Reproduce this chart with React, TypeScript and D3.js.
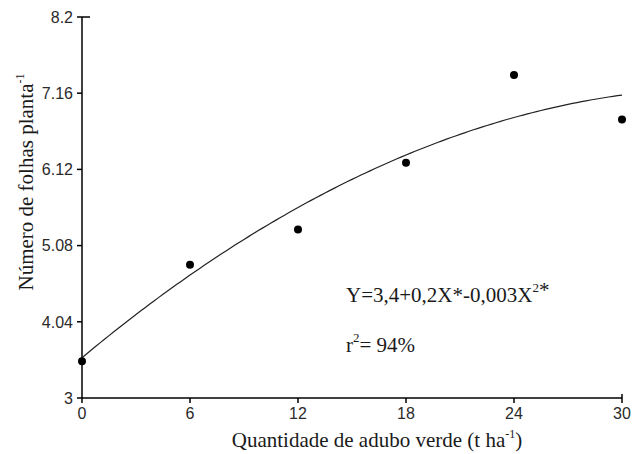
import React from "react";
import * as d3 from "d3";

const xValues = [0, 6, 12, 18, 24, 30];
const yValues = [3.5, 4.82, 5.3, 6.21, 7.41, 6.8];
const xTicks = [0, 6, 12, 18, 24, 30];
const yTicks = [3, 4.04, 5.08, 6.12, 7.16, 8.2];
// fitted regression curve coefficients (as drawn)
const fitA = 3.55;
const fitB = 0.205;
const fitC = -0.00285;
const fitSamples = d3.range(0, 30.0001, 0.25);

const W = 633;
const H = 454;

export default function App() {
  const x = d3.scaleLinear().domain([0, 30]).range([82, 622]);
  const y = d3.scaleLinear().domain([3, 8.2]).range([398, 17]);
  const curve = d3
    .line<number>()
    .x((d) => x(d))
    .y((d) => y(fitA + fitB * d + fitC * d * d));

  const tickFont = "'Liberation Sans', Arial, sans-serif";
  const serif = "'Liberation Serif', 'Times New Roman', serif";

  return (
    <svg
      width={W}
      height={H}
      style={{ position: "absolute", left: 0, top: 0, background: "#fff" }}
    >
      <rect width={W} height={H} fill="#fff" />
      {/* axes */}
      <line x1={x(0)} x2={x(0)} y1={y(8.2)} y2={y(3)} stroke="#000" strokeWidth={1.5} />
      <line x1={x(0)} x2={x(30)} y1={y(3)} y2={y(3)} stroke="#000" strokeWidth={1.5} />
      {yTicks.map((t, i) => (
        <g key={"y" + i}>
          <line
            x1={x(0) - 5}
            x2={i === yTicks.length - 1 ? x(0) + 8 : x(0)}
            y1={y(t)}
            y2={y(t)}
            stroke="#000"
            strokeWidth={1.5}
          />
          <text
            x={x(0) - 9}
            y={y(t)}
            dy="0.36em"
            textAnchor="end"
            fontFamily={tickFont}
            fontSize={16}
            fill="#2a2a2a"
          >
            {String(t)}
          </text>
        </g>
      ))}
      {xTicks.map((t, i) => (
        <g key={"x" + i}>
          <line
            x1={x(t)}
            x2={x(t)}
            y1={i === xTicks.length - 1 ? y(3) - 4 : y(3)}
            y2={y(3) + 5}
            stroke="#000"
            strokeWidth={1.5}
          />
          <text
            x={x(t)}
            y={y(3) + 21}
            textAnchor="middle"
            fontFamily={tickFont}
            fontSize={16}
            fill="#2a2a2a"
          >
            {String(t)}
          </text>
        </g>
      ))}
      {/* fitted curve */}
      <path d={curve(fitSamples) || ""} fill="none" stroke="#222" strokeWidth={1.2} />
      {/* points */}
      {xValues.map((v, i) => (
        <circle key={"p" + i} cx={x(v)} cy={y(yValues[i])} r={4} fill="#000" />
      ))}
      {/* axis titles */}
      <text
        x={377}
        y={447}
        textAnchor="middle"
        fontFamily={serif}
        fontSize={21}
        fill="#1a1a1a"
      >
        Quantidade de adubo verde (t ha
        <tspan dy={-9} fontSize={12}>-1</tspan>
        <tspan dy={9}>)</tspan>
      </text>
      <text
        transform={`translate(33, 182) rotate(-90)`}
        textAnchor="middle"
        fontFamily={serif}
        fontSize={21}
        fill="#1a1a1a"
      >
        Número de folhas planta
        <tspan dy={-9} fontSize={12}>-1</tspan>
      </text>
      {/* equation */}
      <text x={346} y={302} fontFamily={serif} fontSize={21} fill="#1a1a1a">
        Y=3,4+0,2X*-0,003X
        <tspan dy={-10} fontSize={13}>2</tspan>
        <tspan dy={5}>*</tspan>
      </text>
      <text x={346} y={352} fontFamily={serif} fontSize={21} fill="#1a1a1a">
        r<tspan dy={-10} fontSize={13}>2</tspan>
        <tspan dy={10}>= 94%</tspan>
      </text>
    </svg>
  );
}
